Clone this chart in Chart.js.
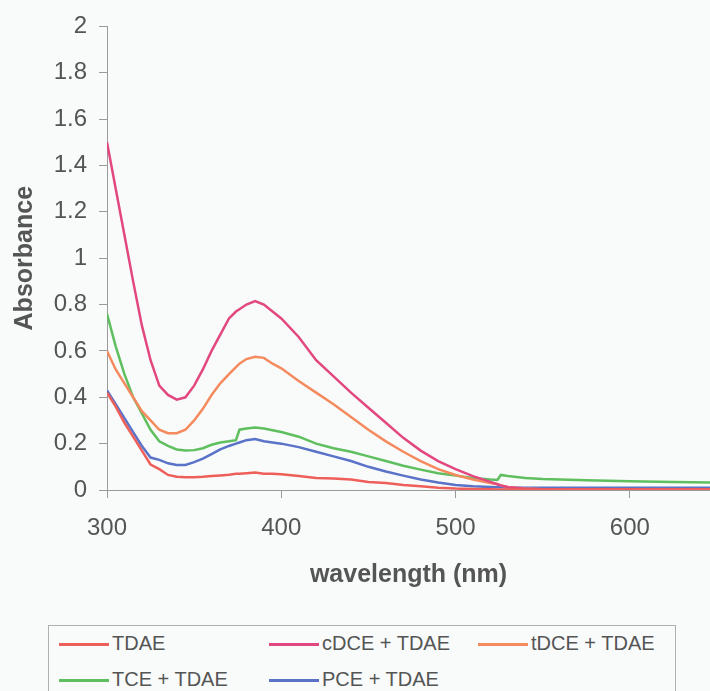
<!DOCTYPE html>
<html>
<head>
<meta charset="utf-8">
<script src="https://cdn.jsdelivr.net/npm/chart.js@4/dist/chart.umd.min.js"></script>
<style>
    html, body { margin: 0; padding: 0; background: #f8fbfa; }
    #wrap { position: relative; width: 710px; height: 691px; overflow: hidden; }
    #chartBox { position: absolute; left: 0; top: 0; width: 710px; height: 610px; }
    #legend {
        position: absolute; left: 48px; top: 625px; width: 628px; height: 90px;
        border: 1px solid #b0b0b0; box-sizing: border-box;
        font-family: 'Liberation Sans', Arial, sans-serif; font-size: 20px; color: #555;
    }
    .item { position: absolute; height: 24px; line-height: 24px; white-space: nowrap; }
    .item span.ln { display: inline-block; width: 50px; height: 3px; vertical-align: middle; margin-right: 3px; }
</style>
</head>
<body>
<div id="wrap">
    <div id="chartBox"><canvas id="uvChart"></canvas></div>
    <div id="legend"></div>
</div>
<script>
// UV-vis spectra, values
const wavelengths = [300, 305, 310, 315, 320, 325, 330, 335, 340, 345, 350, 355, 360, 365, 370, 374, 376, 380, 385, 390, 395, 400,
    410, 420, 430, 440, 450, 460, 470, 480, 490, 500, 510, 520, 524, 526, 530, 540, 550, 575, 600, 625, 646];

const tdae = [0.42, 0.36, 0.29, 0.23, 0.17, 0.11, 0.09, 0.065, 0.057, 0.055, 0.055, 0.057, 0.06, 0.063, 0.066, 0.07, 0.07, 0.072, 0.075, 0.07, 0.07, 0.068,
    0.06, 0.052, 0.05, 0.045, 0.035, 0.03, 0.022, 0.016, 0.01, 0.006, 0.004, 0.003, 0.002, 0.002, 0.002, 0.002, 0.002, 0.002, 0.002, 0.002, 0.002];

const cdce = [1.50, 1.30, 1.10, 0.90, 0.71, 0.56, 0.45, 0.41, 0.39, 0.40, 0.45, 0.52, 0.60, 0.67, 0.74, 0.77, 0.78, 0.80, 0.815, 0.80, 0.77, 0.74,
    0.66, 0.56, 0.49, 0.42, 0.355, 0.29, 0.225, 0.17, 0.125, 0.09, 0.06, 0.035, 0.025, 0.02, 0.012, 0.005, 0.003, 0.002, 0.002, 0.002, 0.002];

const tdce = [0.60, 0.52, 0.46, 0.40, 0.34, 0.30, 0.26, 0.245, 0.245, 0.26, 0.30, 0.35, 0.41, 0.46, 0.50, 0.53, 0.545, 0.565, 0.575, 0.57, 0.545, 0.525,
    0.47, 0.42, 0.37, 0.315, 0.26, 0.21, 0.165, 0.125, 0.09, 0.065, 0.045, 0.03, 0.025, 0.02, 0.013, 0.006, 0.003, 0.002, 0.002, 0.002, 0.002];

const tce = [0.76, 0.62, 0.50, 0.40, 0.33, 0.26, 0.21, 0.19, 0.175, 0.17, 0.172, 0.18, 0.195, 0.205, 0.21, 0.215, 0.26, 0.265, 0.27, 0.265, 0.258, 0.25,
    0.23, 0.20, 0.18, 0.165, 0.145, 0.125, 0.105, 0.088, 0.072, 0.062, 0.052, 0.045, 0.043, 0.065, 0.06, 0.052, 0.047, 0.042, 0.038, 0.035, 0.032];

const pce = [0.43, 0.37, 0.31, 0.25, 0.19, 0.14, 0.13, 0.115, 0.108, 0.108, 0.12, 0.135, 0.155, 0.175, 0.19, 0.20, 0.205, 0.215, 0.22, 0.21, 0.205, 0.20,
    0.185, 0.165, 0.145, 0.125, 0.10, 0.08, 0.062, 0.045, 0.032, 0.022, 0.016, 0.013, 0.012, 0.012, 0.011, 0.01, 0.01, 0.01, 0.01, 0.01, 0.01];

const seriesLabels = ['TDAE', 'cDCE + TDAE', 'tDCE + TDAE', 'TCE + TDAE', 'PCE + TDAE'];
const seriesValues = [tdae, cdce, tdce, tce, pce];
const seriesColors = ['#ef5f5a', '#e2487f', '#f48a5e', '#5fbf5f', '#5a72c8'];

const FONT = "'Liberation Sans', Arial, sans-serif";

const datasets = seriesLabels.map((label, i) => ({
    label: label,
    data: wavelengths.map((w, j) => ({ x: w, y: seriesValues[i][j] })),
    borderColor: seriesColors[i],
    backgroundColor: seriesColors[i],
    borderWidth: 2.5,
    pointRadius: 0,
    tension: 0,
    fill: false
}));

const ctx = document.getElementById('uvChart').getContext('2d');
new Chart(ctx, {
    type: 'line',
    data: { datasets: datasets },
    options: {
        responsive: true,
        maintainAspectRatio: false,
        animation: false,
        layout: { padding: { top: 25, right: 0, left: 0, bottom: 0 } },
        plugins: {
            legend: { display: false },
            tooltip: { enabled: false }
        },
        scales: {
            x: {
                type: 'linear',
                min: 300,
                max: 646,
                afterFit: (s) => { s.height = 120; },
                ticks: {
                    stepSize: 100,
                    includeBounds: false,
                    maxRotation: 0,
                    padding: 16,
                    color: '#555',
                    font: { family: FONT, size: 24 }
                },
                grid: { drawOnChartArea: false, tickLength: 8, color: '#9a9a9a' },
                border: { color: '#9a9a9a' },
                title: {
                    display: true,
                    text: 'wavelength (nm)',
                    color: '#555',
                    font: { family: FONT, size: 25, weight: 'bold' },
                    padding: { top: 0, bottom: 20 }
                }
            },
            y: {
                min: 0,
                max: 2,
                afterFit: (s) => { s.width = 107; },
                ticks: {
                    stepSize: 0.2,
                    padding: 12,
                    color: '#555',
                    font: { family: FONT, size: 24 },
                    callback: (v) => String(Number(v.toFixed(1)))
                },
                grid: { drawOnChartArea: false, tickLength: 8, color: '#9a9a9a' },
                border: { color: '#9a9a9a' },
                title: {
                    display: true,
                    text: 'Absorbance',
                    color: '#555',
                    font: { family: FONT, size: 25, weight: 'bold' },
                    padding: { top: 10, bottom: 0 }
                }
            }
        }
    }
});

// Legend laid out like the original box (3 columns, 2 rows)
const legendPos = [[10, 5], [220, 5], [429, 5], [10, 41], [220, 41]];
const legendEl = document.getElementById('legend');
seriesLabels.forEach((label, i) => {
    const item = document.createElement('div');
    item.className = 'item';
    item.style.left = legendPos[i][0] + 'px';
    item.style.top = legendPos[i][1] + 'px';
    item.innerHTML = '<span class="ln" style="background:' + seriesColors[i] + '"></span>' + label;
    legendEl.appendChild(item);
});
</script>
</body>
</html>
